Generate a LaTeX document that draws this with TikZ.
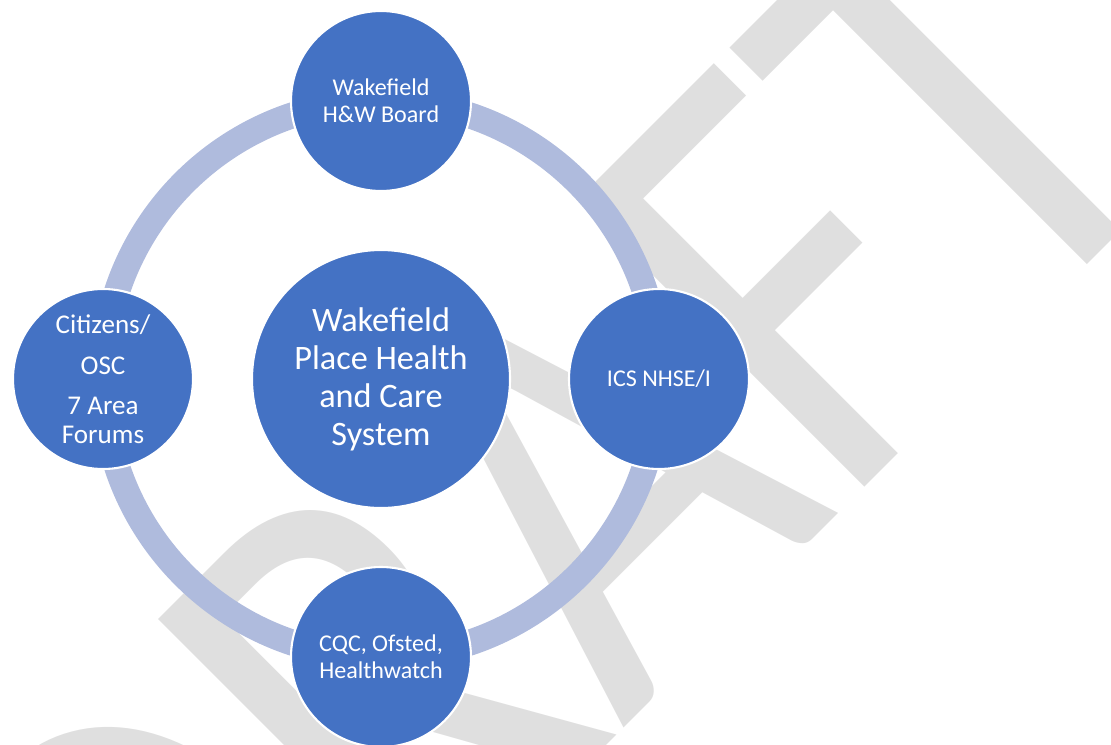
\documentclass[tikz,border=0pt]{standalone}
\usepackage{fontspec}
\setmainfont{Carlito}
\usetikzlibrary{positioning}
\usetikzlibrary{backgrounds}
\definecolor{HubBlue}{HTML}{4472C4}
\definecolor{RingBlue}{HTML}{AFBBDD}
\definecolor{DraftGrey}{HTML}{DFDFDF}

\tikzset{
  hub/.style={circle, fill=HubBlue, draw=white, line width=1.2pt,
    minimum size=5.16cm, inner sep=0pt, text=white, align=center,
    font=\fontsize{19.5}{21.6}\selectfont},
  sat/.style={circle, fill=HubBlue, draw=white, line width=1.2pt,
    minimum size=3.6cm, inner sep=0pt, text=white, align=center,
    font=\fontsize{13.7}{15.4}\selectfont},
  ring/.style={RingBlue, line width=0.52cm},
}

\begin{document}
\begin{tikzpicture}
    \useasboundingbox (-7.62,-7.30) rectangle (14.60,7.58);
    \node[hub] (hub) at (0,0) {Wakefield\\Place Health\\and Care\\System};
    \node[sat, on grid, above=5.56cm of hub] (board) {Wakefield\\H\&W Board};
    \node[sat, on grid, right=5.56cm of hub] (ics) {ICS NHSE/I};
    \node[sat, on grid, below=5.56cm of hub] (cqc) {CQC, Ofsted,\\Healthwatch};
    \node[sat, on grid, left=5.56cm of hub, font=\fontsize{15.4}{16.2}\selectfont]
      (forums) {Citizens/\\[7pt]OSC\\[7pt]7 Area\\Forums};
    \begin{scope}[on background layer]
      % watermark goes underneath the ring
      \node[DraftGrey, rotate=45, xscale=0.84, anchor=base,
        font=\fontsize{360}{360}\selectfont] (draft) at (6.21,-5.63) {DRAFT};
      \draw[ring] (board.center) to[bend left=45] (ics.center)
        to[bend left=45] (cqc.center) to[bend left=45] (forums.center)
        to[bend left=45] (board.center);
    \end{scope}
  \end{tikzpicture}
\end{document}
